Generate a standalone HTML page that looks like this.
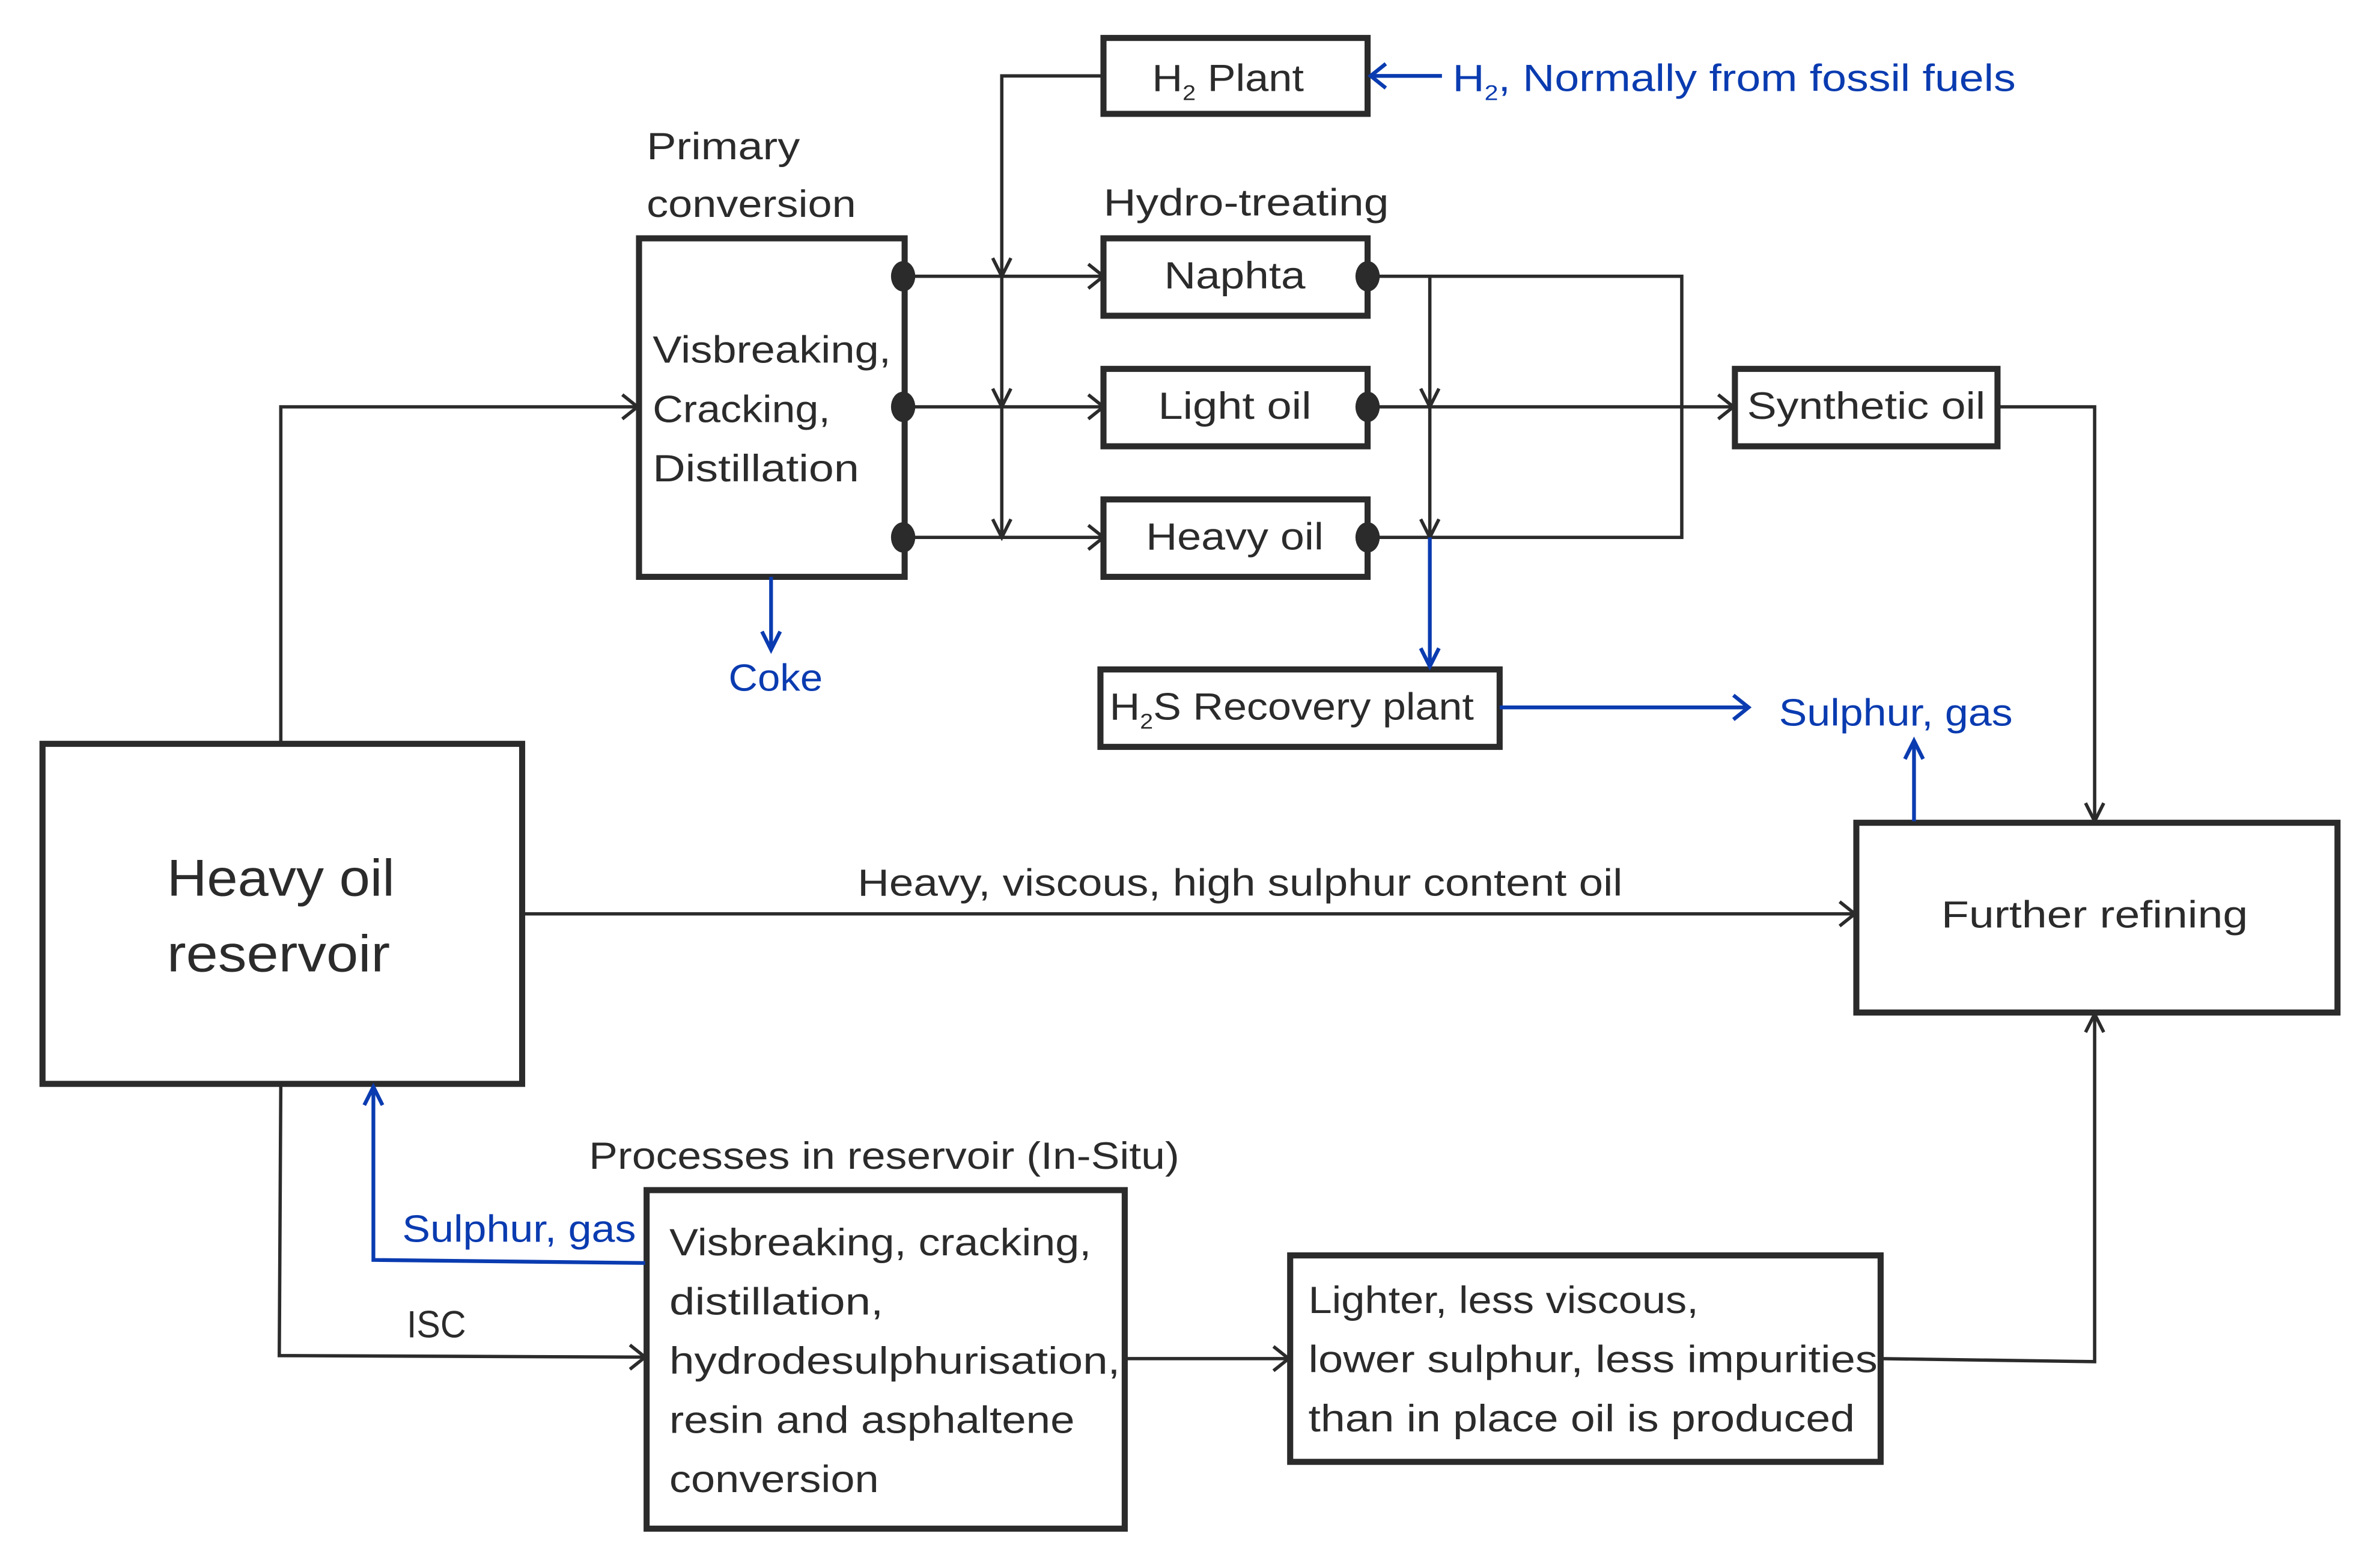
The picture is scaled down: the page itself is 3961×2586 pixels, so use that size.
<!DOCTYPE html>
<html><head><meta charset="utf-8"><style>html,body{margin:0;padding:0;background:#fff}svg{display:block}</style></head>
<body>
<svg xmlns="http://www.w3.org/2000/svg" width="3961" height="2586" viewBox="0 0 1568 1023.7" preserveAspectRatio="none">
<rect width="1568" height="1023.7" fill="#fff"/>
<g font-family="Liberation Sans, sans-serif" font-size="25" fill="#2b2b2b">
<g fill="none" stroke="#2b2b2b" stroke-width="4">
<rect x="727" y="25" width="174" height="50"/>
<rect x="421" y="157" width="175" height="223"/>
<rect x="727" y="157" width="174" height="51"/>
<rect x="727" y="243" width="174" height="51"/>
<rect x="727" y="329" width="174" height="51"/>
<rect x="1143" y="243" width="173" height="51"/>
<rect x="725" y="441" width="263" height="51"/>
<rect x="28" y="490" width="316" height="224"/>
<rect x="1223" y="542" width="317" height="125"/>
<rect x="426" y="784" width="315" height="223"/>
<rect x="850" y="827" width="389" height="136"/>
</g>
<g fill="none" stroke="#2b2b2b" stroke-width="2.2">
<polyline points="727,50 660,50 660,354"/>
<line x1="596" y1="182" x2="727" y2="182"/>
<line x1="596" y1="268" x2="727" y2="268"/>
<line x1="596" y1="354" x2="727" y2="354"/>
<polyline points="901,182 1108,182 1108,354 901,354"/>
<line x1="901" y1="268" x2="1142" y2="268"/>
<line x1="942" y1="182" x2="942" y2="354"/>
<polyline points="1316,268 1380,268 1380,541"/>
<polyline points="185,489 185,268 420,268"/>
<line x1="344" y1="602" x2="1222" y2="602"/>
<polyline points="185,714 184,893 425,894"/>
<line x1="741" y1="895" x2="849" y2="895"/>
<polyline points="1239,895 1380,897 1380,668"/>
<polyline points="654,170 660,182 666,170"/><polyline points="654,256 660,268 666,256"/><polyline points="654,342 660,354 666,342"/>
<polyline points="717,174 727,182 717,190"/><polyline points="717,260 727,268 717,276"/><polyline points="717,346 727,354 717,362"/>
<polyline points="936,256 942,268 948,256"/><polyline points="936,342 942,354 948,342"/>
<polyline points="1132,260 1142,268 1132,276"/>
<polyline points="1374,529 1380,541 1386,529"/>
<polyline points="410,260 420,268 410,276"/>
<polyline points="1212,594 1222,602 1212,610"/>
<polyline points="415,886 425,894 415,902"/>
<polyline points="839,887 849,895 839,903"/>
<polyline points="1374,680 1380,668 1386,680"/>
</g>
<g fill="#2b2b2b">
<ellipse cx="595" cy="182" rx="8" ry="10"/><ellipse cx="595" cy="268" rx="8" ry="10"/><ellipse cx="595" cy="354" rx="8" ry="10"/>
<ellipse cx="901" cy="182" rx="8" ry="10"/><ellipse cx="901" cy="268" rx="8" ry="10"/><ellipse cx="901" cy="354" rx="8" ry="10"/>
</g>
<g fill="none" stroke="#0a3bb0" stroke-width="2.5">
<line x1="950" y1="50" x2="903" y2="50"/><polyline points="913,42 903,50 913,58"/>
<line x1="942" y1="354" x2="942" y2="439"/><polyline points="936,427 942,439 948,427"/>
<line x1="508" y1="380" x2="508" y2="428"/><polyline points="502,416 508,428 514,416"/>
<line x1="988" y1="466" x2="1152" y2="466"/><polyline points="1142,458 1152,466 1142,474"/>
<line x1="1261" y1="541" x2="1261" y2="488"/><polyline points="1255,500 1261,488 1267,500"/>
<polyline points="425,832 246,830 246,716"/><polyline points="240,728 246,716 252,728"/>
</g>
<text x="759" y="60" textLength="100" lengthAdjust="spacingAndGlyphs">H<tspan font-size="14" dy="6">2</tspan><tspan dy="-6"> Plant</tspan></text>
<g fill="#0a3bb0">
<text x="957" y="60" textLength="371" lengthAdjust="spacingAndGlyphs">H<tspan font-size="14" dy="6">2</tspan><tspan dy="-6">, Normally from fossil fuels</tspan></text>
<text x="480" y="455" textLength="62" lengthAdjust="spacingAndGlyphs">Coke</text>
<text x="1172" y="478" textLength="154" lengthAdjust="spacingAndGlyphs">Sulphur, gas</text>
<text x="265" y="818" textLength="154" lengthAdjust="spacingAndGlyphs">Sulphur, gas</text>
</g>
<text x="426" y="105" textLength="101" lengthAdjust="spacingAndGlyphs">Primary</text>
<text x="426" y="143" textLength="138" lengthAdjust="spacingAndGlyphs">conversion</text>
<text x="727" y="142" textLength="188" lengthAdjust="spacingAndGlyphs">Hydro-treating</text>
<text x="430" y="239" textLength="157" lengthAdjust="spacingAndGlyphs">Visbreaking,</text>
<text x="430" y="278" textLength="117" lengthAdjust="spacingAndGlyphs">Cracking,</text>
<text x="430" y="317" textLength="136" lengthAdjust="spacingAndGlyphs">Distillation</text>
<text x="767" y="190" textLength="93" lengthAdjust="spacingAndGlyphs">Naphta</text>
<text x="763" y="276" textLength="101" lengthAdjust="spacingAndGlyphs">Light oil</text>
<text x="755" y="362" textLength="117" lengthAdjust="spacingAndGlyphs">Heavy oil</text>
<text x="1151" y="276" textLength="157" lengthAdjust="spacingAndGlyphs">Synthetic oil</text>
<text x="731" y="474" textLength="240" lengthAdjust="spacingAndGlyphs">H<tspan font-size="14" dy="6">2</tspan><tspan dy="-6">S Recovery plant</tspan></text>
<text x="110" y="590" font-size="34" textLength="150" lengthAdjust="spacingAndGlyphs">Heavy oil</text>
<text x="110" y="640" font-size="34" textLength="147" lengthAdjust="spacingAndGlyphs">reservoir</text>
<text x="565" y="590" textLength="504" lengthAdjust="spacingAndGlyphs">Heavy, viscous, high sulphur content oil</text>
<text x="1279" y="611" textLength="202" lengthAdjust="spacingAndGlyphs">Further refining</text>
<text x="388" y="770" textLength="389" lengthAdjust="spacingAndGlyphs">Processes in reservoir (In-Situ)</text>
<text x="268" y="881" textLength="39" lengthAdjust="spacingAndGlyphs">ISC</text>
<text x="441" y="827" textLength="278" lengthAdjust="spacingAndGlyphs">Visbreaking, cracking,</text>
<text x="441" y="866" textLength="141" lengthAdjust="spacingAndGlyphs">distillation,</text>
<text x="441" y="905" textLength="297" lengthAdjust="spacingAndGlyphs">hydrodesulphurisation,</text>
<text x="441" y="944" textLength="267" lengthAdjust="spacingAndGlyphs">resin and asphaltene</text>
<text x="441" y="983" textLength="138" lengthAdjust="spacingAndGlyphs">conversion</text>
<text x="862" y="865" textLength="257" lengthAdjust="spacingAndGlyphs">Lighter, less viscous,</text>
<text x="862" y="904" textLength="375" lengthAdjust="spacingAndGlyphs">lower sulphur, less impurities</text>
<text x="862" y="943" textLength="360" lengthAdjust="spacingAndGlyphs">than in place oil is produced</text>
</g>
</svg>
</body></html>
